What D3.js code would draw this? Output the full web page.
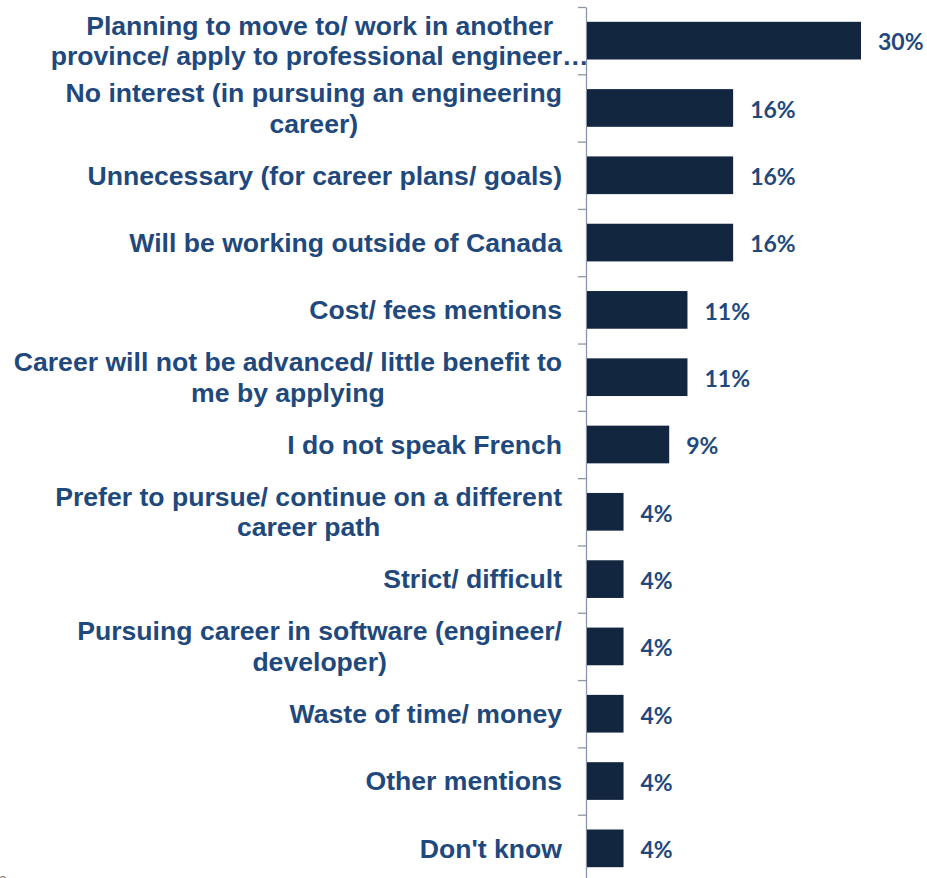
<!DOCTYPE html>
<html>
<head>
<meta charset="utf-8">
<script src="https://cdn.jsdelivr.net/npm/d3@7"></script>
<style>
  html, body { margin: 0; padding: 0; background: #ffffff; }
  svg { display: block; }
</style>
</head>
<body>
<script>
// Reasons for not applying — share of respondents (%)
const categories = [
  "Planning to move to/ work in another\nprovince/ apply to professional engineer\u2026",
  "No interest (in pursuing an engineering\ncareer)",
  "Unnecessary (for career plans/ goals)",
  "Will be working outside of Canada",
  "Cost/ fees mentions",
  "Career will not be advanced/ little benefit to\nme by applying",
  "I do not speak French",
  "Prefer to pursue/ continue on a different\ncareer path",
  "Strict/ difficult",
  "Pursuing career in software (engineer/\ndeveloper)",
  "Waste of time/ money",
  "Other mentions",
  "Don't know"
];
const values = [30, 16, 16, 16, 11, 11, 9, 4, 4, 4, 4, 4, 4];
const valueLabels = ["30%", "16%", "16%", "16%", "11%", "11%", "9%", "4%", "4%", "4%", "4%", "4%", "4%"];

const W = 927, H = 878;
const axisX = 586;
const plotTop = 7, plotBottom = 882;

const svg = d3.select("body").append("svg")
  .attr("width", W).attr("height", H);

const y = d3.scaleBand()
  .domain(categories)
  .range([plotTop, plotBottom])
  .paddingInner(0.44)
  .paddingOuter(0.22);

const x = d3.scaleLinear()
  .domain([0, 30])
  .range([axisX + 1, 861]);

// category axis: tick marks sit between categories
const idx = d3.scaleLinear().domain([0, categories.length]).range([plotTop, plotBottom]);
const axisG = svg.append("g")
  .attr("transform", `translate(${axisX},0)`)
  .call(d3.axisLeft(idx)
    .tickValues(d3.range(categories.length + 1))
    .tickSize(8)
    .tickSizeOuter(0)
    .tickFormat(""));
axisG.selectAll("path, line").attr("stroke", "#8c96a9").attr("stroke-width", 1.3);

// bars
svg.append("g").selectAll("rect")
  .data(values)
  .join("rect")
  .attr("x", x(0))
  .attr("y", (d, i) => y(categories[i]))
  .attr("width", d => x(d) - x(0))
  .attr("height", y.bandwidth())
  .attr("fill", "#13263f");

// value labels
svg.append("g").selectAll("text")
  .data(values)
  .join("text")
  .attr("x", d => x(d) + 17)
  .attr("y", (d, i) => y(categories[i]) + y.bandwidth() / 2 + 1.5)
  .attr("dy", "0.36em")
  .attr("font-family", "Lato, 'Open Sans', sans-serif")
  .attr("font-weight", "bold")
  .attr("font-size", 23)
  .attr("fill", "#1f497d")
  .text((d, i) => valueLabels[i]);

// category labels: lines centred on a common point, block right-aligned to the axis gap
const labelRight = 562;
const lineGap = 30.5;
const labelG = svg.append("g")
  .attr("font-family", "'Liberation Sans', Arial, sans-serif")
  .attr("font-weight", "bold")
  .attr("font-size", 26.6)
  .attr("fill", "#1f497d");

const ellipsisProbe = labelG.append("text").text("\u2026");
const ellipsisW = ellipsisProbe.node().getComputedTextLength();
ellipsisProbe.remove();

categories.forEach(cat => {
  const lines = cat.split("\n");
  const cy = y(cat) + y.bandwidth() / 2;
  const t = labelG.append("text").attr("text-anchor", "middle");
  const spans = lines.map((ln, j) => t.append("tspan")
    .attr("x", 0)
    .attr("y", cy + (j - (lines.length - 1) / 2) * lineGap)
    .attr("dy", "0.35em")
    .text(ln));
  // a truncated line spills past its box by one ellipsis width on each side
  const widths = spans.map(s => {
    const full = s.node().getComputedTextLength();
    return s.text().endsWith("\u2026") ? full - 2 * ellipsisW : full;
  });
  const cx = labelRight - d3.max(widths) / 2;
  spans.forEach(s => s.attr("x", cx));
});

// clipped footnote fragment at the lower left
svg.append("text")
  .attr("x", -1)
  .attr("y", 884)
  .attr("font-family", "'Liberation Sans', Arial, sans-serif")
  .attr("font-size", 14)
  .attr("fill", "#7f7f7f")
  .text("e");
</script>
</body>
</html>
